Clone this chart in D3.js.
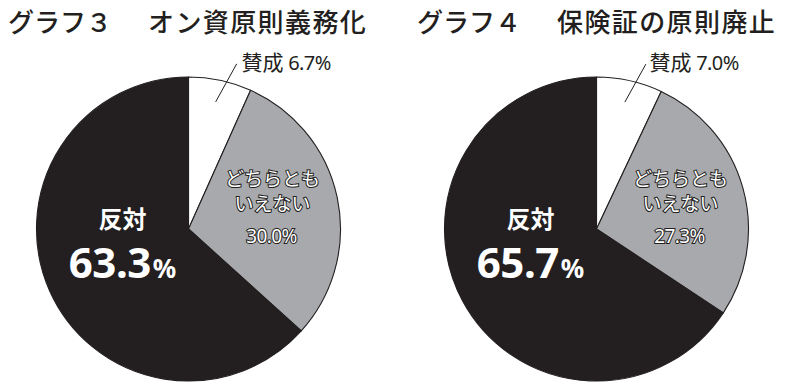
<!DOCTYPE html>
<html><head><meta charset="utf-8">
<script src="https://cdn.jsdelivr.net/npm/d3@7"></script>
<style>
html,body{margin:0;padding:0;background:#fff;}
svg{display:block;}
</style></head>
<body>
<svg id="c" width="792" height="386"></svg>
<script>
const titlesNum = ["グラフ３", "グラフ４"];
const titlesText = ["オン資原則義務化", "保険証の原則廃止"];
const categories = ["賛成", "どちらともいえない", "反対"];
const values3 = [6.7, 30.0, 63.3];
const values4 = [7.0, 27.3, 65.7];
const seriesValues = [values3, values4];
const valueLabels3 = ["6.7%", "30.0%", "63.3"];
const valueLabels4 = ["7.0%", "27.3%", "65.7"];
const valueLabels = [valueLabels3, valueLabels4];

const BLACK = "#231f20", GRAY = "#a7a9ac";
const color = d3.scaleOrdinal().domain(categories).range(["#ffffff", GRAY, BLACK]);
const svg = d3.select("#c");
const centers = [[188.5, 229], [596.5, 229]];
const titleX = [[8, 148], [417, 557]];
const R = 152;
const JP = "'Noto Sans CJK JP','Noto Sans',sans-serif";
const pie = d3.pie().sort(null).value(d => d);
const arc = d3.arc().innerRadius(0).outerRadius(R);

seriesValues.forEach((vals, i) => {
  const [cx, cy] = centers[i];
  svg.append("text").attr("x", titleX[i][0]).attr("y", 32)
    .attr("font-family", JP).attr("font-size", 26).attr("font-weight", 500)
    .attr("fill", BLACK).text(titlesNum[i]);
  svg.append("text").attr("x", titleX[i][1]).attr("y", 32)
    .attr("font-family", JP).attr("font-size", 26).attr("font-weight", 500)
    .attr("letter-spacing", 1.4)
    .attr("fill", BLACK).text(titlesText[i]);

  const g = svg.append("g").attr("transform", `translate(${cx},${cy})`);
  const arcs = pie(vals);
  g.selectAll("path").data(arcs).join("path")
    .attr("d", arc)
    .attr("fill", (d, j) => color(categories[j]))
    .attr("stroke", BLACK).attr("stroke-width", 1.1).attr("stroke-linejoin", "round");

  const a0 = arcs[0];
  const mid = (a0.startAngle + a0.endAngle) / 2;
  const sx = Math.sin(mid) * 130, sy = -Math.cos(mid) * 130;
  g.append("line").attr("x1", sx).attr("y1", sy)
    .attr("x2", sx + 21).attr("y2", sy - 38)
    .attr("stroke", BLACK).attr("stroke-width", 1);
  const t0 = g.append("text").attr("x", 53).attr("y", 70 - cy)
    .attr("font-family", JP).attr("fill", BLACK);
  t0.append("tspan").attr("font-size", 21).text(categories[0] + " ");
  t0.append("tspan").attr("font-size", 20).attr("font-family", "'Noto Sans',sans-serif")
    .attr("letter-spacing", -0.6).text(valueLabels[i][0]);

  const gl = g.append("g").attr("font-family", JP).attr("fill", "#fff")
    .attr("stroke", BLACK).attr("stroke-width", 2).attr("paint-order", "stroke")
    .attr("text-anchor", "middle").attr("font-size", 19);
  gl.append("text").attr("x", 84).attr("y", 186 - cy).text("どちらとも");
  gl.append("text").attr("x", 84).attr("y", 211 - cy).text("いえない");
  gl.append("text").attr("x", 83).attr("y", 243 - cy)
    .attr("font-family", "'Noto Sans',sans-serif").attr("font-size", 19)
    .attr("letter-spacing", -0.6).text(valueLabels[i][1]);

  g.append("text").attr("x", -66).attr("y", 228 - cy).attr("text-anchor", "middle")
    .attr("font-family", JP).attr("font-weight", 700).attr("font-size", 24)
    .attr("fill", "#fff").text("反対");
  const big = g.append("text").attr("x", -66).attr("y", 278 - cy).attr("text-anchor", "middle")
    .attr("font-family", "'Noto Sans',sans-serif").attr("font-weight", 700).attr("fill", "#fff");
  big.append("tspan").attr("font-size", 42).attr("letter-spacing", -0.5).text(valueLabels[i][2]);
  big.append("tspan").attr("font-size", 26).attr("dx", 2).text("%");
});
</script>
</body></html>
